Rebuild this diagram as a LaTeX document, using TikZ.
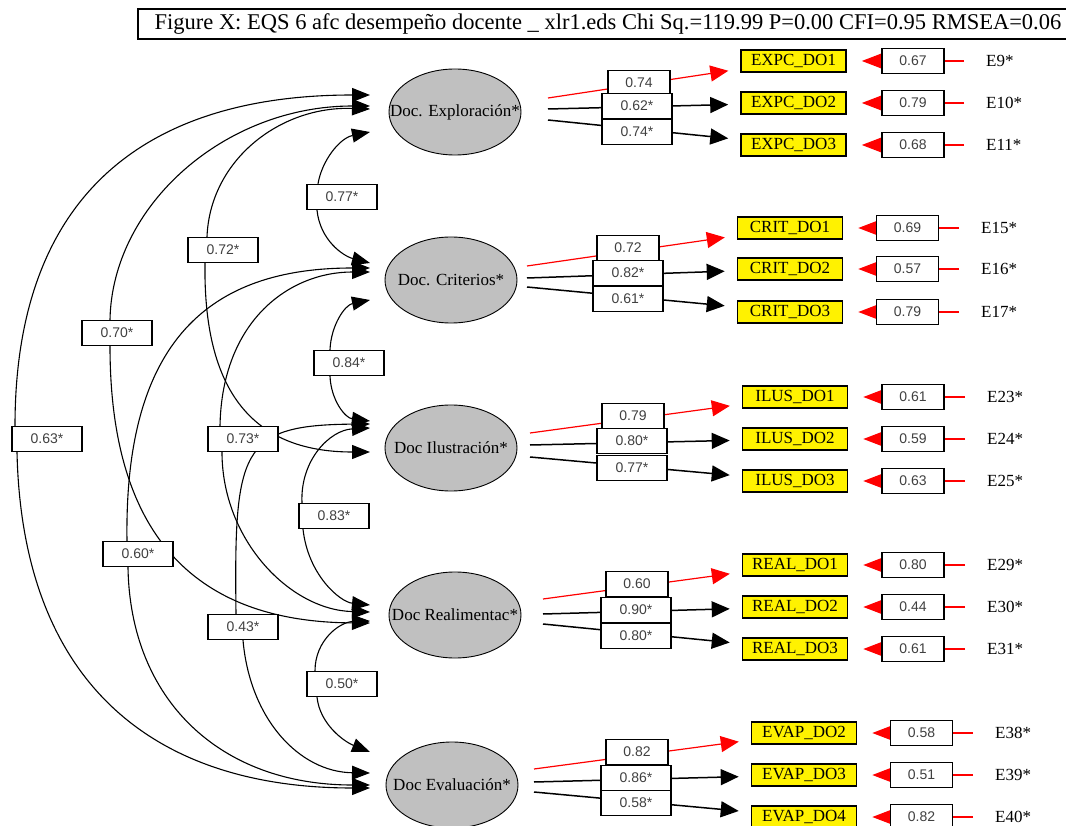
\documentclass[tikz,border=0pt]{standalone}
\usepackage{fontspec}
\setmainfont{Liberation Serif}
\setsansfont{Liberation Sans}
\usetikzlibrary{shapes.geometric,arrows.meta}
\pgfdeclarelayer{bg}
\pgfsetlayers{bg,main}
\definecolor{factorgray}{HTML}{C0C0C0}
\definecolor{valtext}{HTML}{404040}
\begin{document}
\begin{tikzpicture}[x=1pt,y=-1pt,
  factor/.style={ellipse, draw=black, line width=0.9pt, fill=factorgray, minimum width=132, minimum height=86, inner sep=0pt, font=\fontsize{17}{17}\selectfont},
  ind/.style={rectangle, draw=black, line width=1.6pt, fill=yellow, minimum width=105, minimum height=22, inner sep=0pt, font=\fontsize{17}{17}\selectfont},
  val/.style={rectangle, draw=black, line width=1.3pt, fill=white, minimum height=25, inner sep=0pt, text=valtext, font=\sffamily\fontsize{14}{14}\selectfont},
  errlab/.style={anchor=west, inner sep=2pt, font=\fontsize{17}{17}\selectfont},
  titlebox/.style={rectangle, draw=black, line width=1.2pt, minimum width=940, minimum height=30, inner sep=0pt, font=\fontsize{22.5}{22.5}\selectfont},
  corr/.style={line width=1.1pt, -{Triangle[length=18pt,width=14pt]}},
  load/.style={line width=1.5pt, -{Triangle[length=18pt,width=16pt]}, shorten >=12pt},
  loadred/.style={draw=red, line width=1.2pt, -{Triangle[length=18pt,width=16pt]}, shorten >=12pt},
  errline/.style={draw=red, line width=1.2pt, -{Triangle[length=20pt,width=15pt]}, shorten <=20pt, shorten >=15pt}
]
\useasboundingbox (0,0) rectangle (1066,826);
\begin{pgfonlayer}{bg}
\fill[white] (0,0) rectangle (1066,826);
\end{pgfonlayer}

% title
\node[titlebox] (title) at (608,24) {Figure X: EQS 6 afc desempeño docente \_ xlr1.eds Chi Sq.=119.99 P=0.00 CFI=0.95 RMSEA=0.06};

% factors
\node[factor] (exp)  at (455,112) {\makebox[0pt]{Doc. Exploración*}};
\node[factor] (crit) at (451,280) {\makebox[0pt]{Doc. Criterios*}};
\node[factor] (ilus) at (451,448) {\makebox[0pt]{Doc Ilustración*}};
\node[factor] (real) at (455,615) {\makebox[0pt]{Doc Realimentac*}};
\node[factor] (eval) at (452,785) {\makebox[0pt]{Doc Evaluación*}};

% correlation labels
\node[val, minimum width=70] (l77) at (342,197) {0.77*};
\node[val, minimum width=70] (l72) at (223,250) {0.72*};
\node[val, minimum width=70] (l70) at (117,333) {0.70*};
\node[val, minimum width=70] (l84) at (349,363) {0.84*};
\node[val, minimum width=70] (l63) at (47,439) {0.63*};
\node[val, minimum width=70] (l73) at (243,439) {0.73*};
\node[val, minimum width=70] (l83) at (334,516) {0.83*};
\node[val, minimum width=70] (l60) at (138,554) {0.60*};
\node[val, minimum width=70] (l43) at (243,627) {0.43*};
\node[val, minimum width=70] (l50) at (342,684) {0.50*};

% arrow tips at the factors
\coordinate (t63a) at (370,95);  \coordinate (t63b) at (370,788);
\coordinate (t70a) at (370,106); \coordinate (t70b) at (370,623);
\coordinate (t72a) at (370,109); \coordinate (t72b) at (370,452);
\coordinate (t77a) at (370,132); \coordinate (t77b) at (370,263);
\coordinate (t84a) at (370,300); \coordinate (t84b) at (370,421);
\coordinate (t73a) at (370,272); \coordinate (t73b) at (370,612);
\coordinate (t60a) at (370,268); \coordinate (t60b) at (370,785);
\coordinate (t83a) at (370,428); \coordinate (t83b) at (370,605);
\coordinate (t43a) at (370,424); \coordinate (t43b) at (370,773);
\coordinate (t50a) at (370,621); \coordinate (t50b) at (370,752);

% indicators
\node[ind] (x1)  at (793.5,61)  {EXPC\_DO1};
\node[ind] (x2)  at (793.5,103) {EXPC\_DO2};
\node[ind] (x3)  at (793.5,145) {EXPC\_DO3};
\node[ind] (x4)  at (790,228)   {CRIT\_DO1};
\node[ind] (x5)  at (790,269)   {CRIT\_DO2};
\node[ind] (x6)  at (790,312)   {CRIT\_DO3};
\node[ind] (x7)  at (795,397)   {ILUS\_DO1};
\node[ind] (x8)  at (795,439)   {ILUS\_DO2};
\node[ind] (x9)  at (795,481)   {ILUS\_DO3};
\node[ind] (x10) at (795,565)   {REAL\_DO1};
\node[ind] (x11) at (795,607)   {REAL\_DO2};
\node[ind] (x12) at (795,649)   {REAL\_DO3};
\node[ind] (x13) at (804,733)   {EVAP\_DO2};
\node[ind] (x14) at (804,775)   {EVAP\_DO3};
\node[ind] (x15) at (804,817)   {EVAP\_DO4};

% error terms
\node[errlab] (e1)  at (984,61)  {E9*};
\node[errlab] (e2)  at (984,103) {E10*};
\node[errlab] (e3)  at (984,145) {E11*};
\node[errlab] (e4)  at (979,228) {E15*};
\node[errlab] (e5)  at (979,269) {E16*};
\node[errlab] (e6)  at (979,312) {E17*};
\node[errlab] (e7)  at (985,397) {E23*};
\node[errlab] (e8)  at (985,439) {E24*};
\node[errlab] (e9)  at (985,481) {E25*};
\node[errlab] (e10) at (985,565) {E29*};
\node[errlab] (e11) at (985,607) {E30*};
\node[errlab] (e12) at (985,649) {E31*};
\node[errlab] (e13) at (993,733) {E38*};
\node[errlab] (e14) at (993,775) {E39*};
\node[errlab] (e15) at (993,817) {E40*};

% error values
\node[val, minimum width=62] (v1)  at (913,61)    {0.67};
\node[val, minimum width=62] (v2)  at (913,103)   {0.79};
\node[val, minimum width=62] (v3)  at (913,145)   {0.68};
\node[val, minimum width=62] (v4)  at (907.5,228) {0.69};
\node[val, minimum width=62] (v5)  at (907.5,269) {0.57};
\node[val, minimum width=62] (v6)  at (907.5,312) {0.79};
\node[val, minimum width=62] (v7)  at (913,397)   {0.61};
\node[val, minimum width=62] (v8)  at (913,439)   {0.59};
\node[val, minimum width=62] (v9)  at (913,481)   {0.63};
\node[val, minimum width=62] (v10) at (913,565)   {0.80};
\node[val, minimum width=62] (v11) at (913,607)   {0.44};
\node[val, minimum width=62] (v12) at (913,649)   {0.61};
\node[val, minimum width=62] (v13) at (921.5,733) {0.58};
\node[val, minimum width=62] (v14) at (921.5,775) {0.51};
\node[val, minimum width=62] (v15) at (921.5,817) {0.82};

% loading labels
\node[val, minimum width=62] (m1)  at (639,83)  {0.74};
\node[val, minimum width=70] (m2)  at (637,106) {0.62*};
\node[val, minimum width=70] (m3)  at (637,132) {0.74*};
\node[val, minimum width=62] (m4)  at (628,248) {0.72};
\node[val, minimum width=70] (m5)  at (628,273) {0.82*};
\node[val, minimum width=70] (m6)  at (628,299) {0.61*};
\node[val, minimum width=62] (m7)  at (633,416) {0.79};
\node[val, minimum width=70] (m8)  at (632,441) {0.80*};
\node[val, minimum width=70] (m9)  at (632,468) {0.77*};
\node[val, minimum width=62] (m10) at (637,584) {0.60};
\node[val, minimum width=70] (m11) at (636,610) {0.90*};
\node[val, minimum width=70] (m12) at (636,636) {0.80*};
\node[val, minimum width=62] (m13) at (637,752) {0.82};
\node[val, minimum width=70] (m14) at (636,778) {0.86*};
\node[val, minimum width=70] (m15) at (636,803) {0.58*};

% loading start points
\coordinate (s1) at (548,98);  \coordinate (s2) at (548,109); \coordinate (s3) at (548,120);
\coordinate (s4) at (527,266); \coordinate (s5) at (527,278); \coordinate (s6) at (527,287);
\coordinate (s7) at (530,433); \coordinate (s8) at (530,445); \coordinate (s9) at (530,457);
\coordinate (s10) at (543,599); \coordinate (s11) at (543,614); \coordinate (s12) at (543,624);
\coordinate (s13) at (534,769); \coordinate (s14) at (534,782); \coordinate (s15) at (534,792);

\begin{pgfonlayer}{bg}
% correlations
\draw[corr] ([xshift=-24pt]l77.north) .. controls (322,160) and (340,138) .. (t77a);
\draw[corr] ([xshift=-25pt]l77.south) .. controls (320,240) and (343,256) .. (t77b);
\draw[corr] ([xshift=-19pt]l84.north) .. controls (331,325) and (345,305) .. (t84a);
\draw[corr] ([xshift=-19pt]l84.south) .. controls (331,400) and (345,418) .. (t84b);
\draw[corr] ([xshift=-32pt]l83.north) .. controls (300,460) and (330,430) .. (t83a);
\draw[corr] ([xshift=-31pt]l83.south) .. controls (308,575) and (340,602) .. (t83b);
\draw[corr] ([xshift=-27pt]l50.north) .. controls (315,640) and (340,622) .. (t50a);
\draw[corr] ([xshift=-25pt]l50.south) .. controls (320,725) and (345,742) .. (t50b);
\draw[corr] ([xshift=-16pt]l72.north) .. controls (210,160) and (280,106) .. (t72a);
\draw[corr] ([xshift=-18pt]l72.south) .. controls (203,400) and (260,452) .. (t72b);
\draw[corr] ([xshift=-7pt]l70.north) .. controls (112,205) and (225,106) .. (t70a);
\draw[corr] ([xshift=-7pt]l70.south) .. controls (110,530) and (190,622) .. (t70b);
\draw[corr] ([xshift=-32pt]l63.north) .. controls (15,200) and (140,95) .. (t63a);
\draw[corr] ([xshift=-30pt]l63.south) .. controls (22,680) and (150,788) .. (t63b);
\draw[corr] ([xshift=-23pt]l73.north) .. controls (222,320) and (290,272) .. (t73a);
\draw[corr] ([xshift=-21pt]l73.south) .. controls (222,540) and (290,610) .. (t73b);
\draw[corr] ([xshift=-11pt]l60.north) .. controls (124,340) and (210,268) .. (t60a);
\draw[corr] ([xshift=-10pt]l60.south) .. controls (130,700) and (220,785) .. (t60b);
\draw[corr] ([xshift=-7pt]l43.north) .. controls (234,450) and (240,425) .. (t43a);
\draw[corr] ([xshift=0pt]l43.south) .. controls (250,720) and (300,772) .. (t43b);
% loadings
\draw[loadred] (s1) -- (x1);   \draw[load] (s2) -- (x2);   \draw[load] (s3) -- (x3);
\draw[loadred] (s4) -- (x4);   \draw[load] (s5) -- (x5);   \draw[load] (s6) -- (x6);
\draw[loadred] (s7) -- (x7);   \draw[load] (s8) -- (x8);   \draw[load] (s9) -- (x9);
\draw[loadred] (s10) -- (x10); \draw[load] (s11) -- (x11); \draw[load] (s12) -- (x12);
\draw[loadred] (s13) -- (x13); \draw[load] (s14) -- (x14); \draw[load] (s15) -- (x15);
% errors
\foreach \i in {1,...,15} { \draw[errline] (e\i) -- (x\i); }
\end{pgfonlayer}
\end{tikzpicture}
\end{document}
